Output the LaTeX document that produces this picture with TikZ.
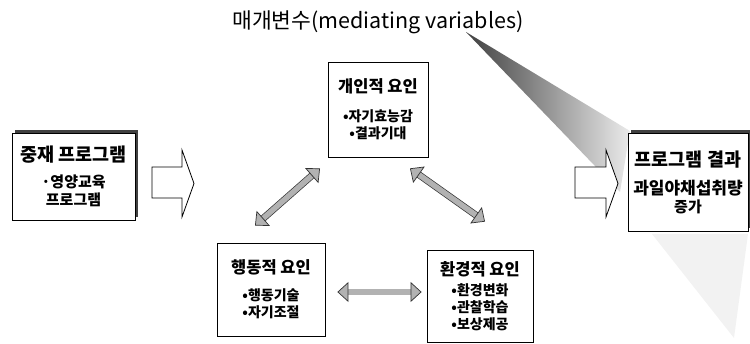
\documentclass[tikz,border=0pt]{standalone}
\usepackage{fontspec}
\setmainfont{Noto Sans CJK KR}[BoldFont={Noto Sans CJK KR Black}]
\usetikzlibrary{arrows.meta,positioning,calc,shadows}

\begin{document}
\begin{tikzpicture}[x=1pt,y=-1pt,>=Latex,
box/.style={draw=black,line width=0.8pt,fill=white,align=center,inner sep=2pt,font=\fontsize{14}{17}\selectfont\bfseries},
shadowed/.style={box,font=\fontsize{15}{18}\selectfont\bfseries,general shadow={fill=black!75,shadow xshift=2.5pt,shadow yshift=2.5pt}},
dbl/.style={draw=black!80,line width=0.7pt,double=black!30,double distance=5.5pt,
  {Triangle[length=11pt,width=20pt,fill=black!30]}-{Triangle[length=11pt,width=20pt,fill=black!30]}},
bigarrow/.style={draw=black,line width=0.8pt,fill=white,line join=miter}]
\useasboundingbox (0,0) rectangle (750,344);
% wedge from the title down to the outcome box
\shade[left color=black!75,middle color=black!30,right color=black!8] (466,32) -- (630,131) -- (620,192) -- cycle;
\fill[black!5] (652,234) -- (748,234) -- (734,338) -- cycle;
\node[font=\fontsize{21.5}{24}\selectfont] (title) at (378,22) {매개변수(mediating variables)};
\node[shadowed,minimum width=123pt,minimum height=87pt] (prog) at (73.5,176.5)
{{\fontsize{18.5}{20}\selectfont 중재 프로그램}\\[8pt]·영양교육\\프로그램};
\node[shadowed,minimum width=120pt,minimum height=98pt] (result) at (688,182)
{{\fontsize{18.5}{20}\selectfont 프로그램 결과}\\[10pt]{\fontsize{17}{19}\selectfont 과일야채섭취량}\\증가};
\node[box,minimum width=100pt,minimum height=95pt] (pers) at (378,109.5)
{{\fontsize{16.5}{18}\selectfont 개인적 요인}\\[12pt]•자기효능감\\•결과기대};
\node[box,minimum width=108pt,minimum height=93pt] (beh) at (271,289.5)
{{\fontsize{16.5}{18}\selectfont 행동적 요인}\\[10pt]•행동기술\\•자기조절};
\node[box,minimum width=106pt,minimum height=92pt] (env) at (480,296)
{{\fontsize{16.5}{18}\selectfont 환경적 요인}\\[3pt]•환경변화\\•관찰학습\\•보상제공};
% open arrows
\foreach \ax/\bx/\tx in {152/182/194, 575/606/618}
  \draw[bigarrow] (\ax,167) -- (\bx,167) -- (\bx,150) -- (\tx,183.5) -- (\bx,217) -- (\bx,198) -- (\ax,198) -- cycle;
% links between the factors
\draw[dbl] ([xshift=-16pt,yshift=17pt]beh.north) -- ([xshift=-58pt,yshift=-11pt]pers.south);
\draw[dbl] ([xshift=32pt,yshift=-11pt]pers.south) -- ([xshift=5pt,yshift=28pt]env.north);
\draw[dbl] ([xshift=12pt,yshift=-2.5pt]beh.east) -- ([xshift=-5pt,yshift=4pt]env.west);
\end{tikzpicture}
\end{document}
